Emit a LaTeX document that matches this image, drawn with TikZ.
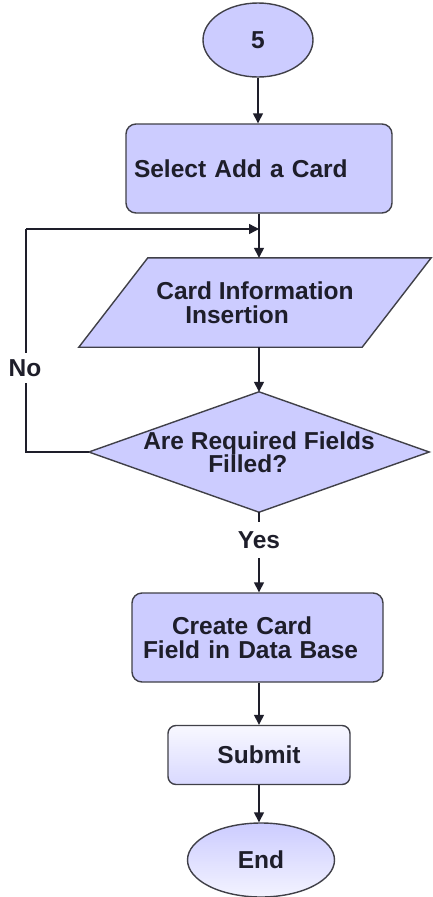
\documentclass[tikz,border=0pt]{standalone}
\usepackage{fontspec}
\setmainfont{Liberation Sans}
\usetikzlibrary{shapes.geometric,arrows.meta,backgrounds,calc}
\definecolor{lav}{HTML}{CCCCFF}
\definecolor{lavpale}{HTML}{F3F3FF}
\definecolor{edge}{HTML}{404048}
\definecolor{ink}{HTML}{1E1E2A}
\begin{document}
\begin{tikzpicture}[x=1pt,y=-1pt,
  every node/.style={font=\fontsize{24.5}{23.5}\selectfont\bfseries, text=ink},
  outline/.style={draw=edge, line width=1.4pt},
  terminal/.style={outline, ellipse, fill=lav, inner sep=0pt},
  procbox/.style={outline, rectangle, fill=lav, rounded corners=10pt, inner sep=0pt, align=left},
  frame/.style={rectangle, inner sep=0pt, align=left},
  flow/.style={draw=ink, line width=1.4pt, -{Triangle[length=10pt,width=10pt]}},
  plain/.style={draw=ink, line width=1.4pt},
  lbl/.style={fill=white, inner xsep=2pt, inner ysep=0pt}
]
\begin{scope}[on background layer]
  \fill[white] (0,0) rectangle (433,897);
\end{scope}
\useasboundingbox (0,0) rectangle (433,897);

% start terminal
\node[terminal, minimum width=110pt, minimum height=74pt] (start) at (258,40) {5};

% select action
\node[procbox, minimum width=266pt, minimum height=89pt, text width=250pt, inner xsep=8pt]
  (sel) at (259,168.5) {Select Add a Card};

% input parallelogram (outline drawn on the background layer)
\node[frame, minimum width=352pt, minimum height=89pt] (ins) at (255,302.5)
  {Card Information\\\hspace*{29pt}Insertion};

% decision diamond (outline drawn on the background layer)
\node[frame, minimum width=340pt, minimum height=120pt] (dec) at (259,452)
  {Are Required Fields\\\hspace*{65pt}Filled?};

% create record
\node[procbox, minimum width=251pt, minimum height=89pt, text width=229pt, inner xsep=11pt]
  (cre) at (257.5,637.5) {\hspace*{29pt}Create Card\\Field in Data Base};

% submit
\node[procbox, rounded corners=8pt, top color=lavpale!60!white, bottom color=lav!75!white,
  minimum width=182pt, minimum height=59pt, align=center] (sub) at (259,755) {Submit};

% end terminal
\node[terminal, top color=lav, bottom color=lavpale, minimum width=147pt, minimum height=74pt]
  (stop) at (261,860) {End};

\begin{scope}[on background layer]
  \draw[outline, fill=lav, line join=miter]
    ($(ins.north west)+(69,0)$) -- (ins.north east)
    -- ($(ins.south east)+(-69,0)$) -- (ins.south west) -- cycle;
  \draw[outline, fill=lav, line join=miter]
    (dec.north) -- (dec.east) -- (dec.south) -- (dec.west) -- cycle;
\end{scope}

% loop-back corner and junction
\coordinate (lp) at (26,229);
\coordinate (jn) at (259,229);

% connectors
\draw[flow] (start.south) -- (start.south |- sel.north);
\draw[flow] (sel.south) -- (sel.south |- ins.north);
\draw[plain] (dec.west) -| (lp);
\draw[flow] (lp) -- (jn);
\draw[flow] (dec.north |- ins.south) -- (dec.north);
\draw[flow] (dec.south) -- (dec.south |- cre.north);
\draw[flow] (sub.north |- cre.south) -- (sub.north);
\draw[flow] (sub.south) -- (sub.south |- stop.north);

% branch labels
\node[lbl, minimum height=30pt] (no) at (25,368) {No};
\node[lbl, minimum height=36pt] (yes) at (259,540) {Yes};
\end{tikzpicture}
\end{document}
